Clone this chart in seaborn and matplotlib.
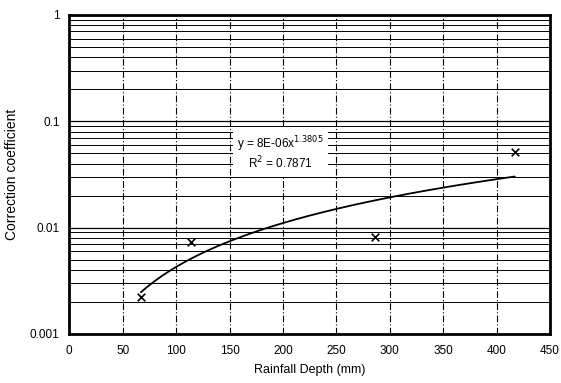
import numpy as np
import pandas as pd
import matplotlib
matplotlib.use("Agg")
import matplotlib.pyplot as plt
import matplotlib.ticker as mticker
import seaborn as sns

# Ölçüm verileri
rain_depth = [67, 114, 286, 417]            # mm
coef = [0.00224, 0.00738, 0.00812, 0.0512]  # düzeltme katsayısı
x_ticks = [0, 50, 100, 150, 200, 250, 300, 350, 400, 450]
y_ticks = [0.001, 0.01, 0.1, 1]
y_tick_labels = ["0.001", "0.01", "0.1", "1"]
eq_text = "y = 8E-06x$^{1.3805}$\nR$^2$ = 0.7871"

sns.set_theme(style="white")
plt.rcParams['font.family'] = ['Liberation Sans', 'DejaVu Sans']

df = pd.DataFrame({'depth': rain_depth, 'coef': coef})

# Üs (power) eğilim çizgisi: log-log doğrusal uydurma
b, ln_a = np.polyfit(np.log(df['depth']), np.log(df['coef']), 1)
xs = np.linspace(min(rain_depth), max(rain_depth), 200)
trend = pd.DataFrame({'depth': xs, 'coef': np.exp(ln_a) * xs ** b})

fig = plt.figure(figsize=(5.61, 3.83), dpi=100)
ax = fig.add_axes([0.1235, 0.128, 0.857, 0.833])

ax.set_yscale('log')
ax.set_xlim(0, 450)
ax.set_ylim(0.001, 1)

# Izgara çizgileri
ax.yaxis.set_minor_locator(mticker.LogLocator(base=10, subs=np.arange(2, 10)))
ax.grid(True, which='major', axis='y', color='black', linewidth=0.9)
ax.grid(True, which='minor', axis='y', color='black', linewidth=0.7)
ax.grid(True, which='major', axis='x', color='black', linewidth=0.8,
        linestyle=(0, (6, 2, 1, 2)))
ax.set_axisbelow(True)

sns.lineplot(data=trend, x='depth', y='coef', ax=ax, color='black', linewidth=1.3)
sns.scatterplot(data=df, x='depth', y='coef', ax=ax, marker='x', color='black',
                s=30, linewidth=1.2, zorder=5)

ax.set_xticks(x_ticks)
ax.set_yticks(y_ticks)
ax.set_yticklabels(y_tick_labels)
ax.yaxis.set_minor_formatter(mticker.NullFormatter())
ax.tick_params(axis='both', which='both', length=0, labelsize=8.5, colors='black')
ax.tick_params(axis='x', pad=8)
ax.tick_params(axis='y', pad=7)

for sp in ax.spines.values():
    sp.set_color('black')
    sp.set_linewidth(2)

ax.set_xlabel('Rainfall Depth (mm)', fontsize=9, labelpad=5, color='black')
ax.set_ylabel('Correction coefficient', fontsize=10, labelpad=8, color='black')

ax.text(198, 0.05, eq_text, fontsize=8.5, ha='center', va='center',
        linespacing=1.05, color='black',
        bbox=dict(facecolor='white', edgecolor='none', pad=3))

plt.savefig('out.png', dpi=100)
